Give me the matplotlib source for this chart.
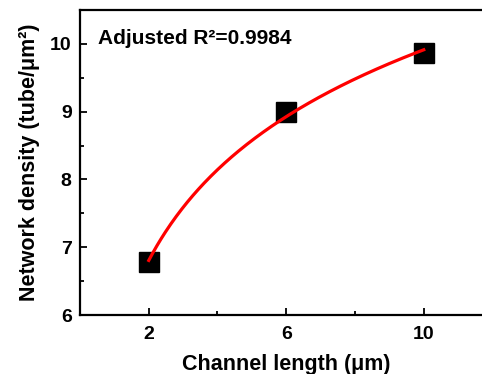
import numpy as np
import matplotlib
matplotlib.use("Agg")
import matplotlib.pyplot as plt
from matplotlib.ticker import MultipleLocator

# measured points
channel_length = [2, 6, 10]
density = [6.785, 8.99, 9.87]
fit_label = "Adjusted R\u00b2=0.9984"

plt.rcParams["font.family"] = ["Liberation Sans", "DejaVu Sans"]
plt.rcParams["font.weight"] = "bold"

fig = plt.figure(figsize=(4.82, 3.74), dpi=100)
ax = fig.add_axes([80 / 482, 59 / 374, 412.5 / 482, 305 / 374])

# logarithmic fit y = a + b*ln(x), drawn between the first and last point
b, a = np.polyfit(np.log(channel_length), density, 1)
xf = np.linspace(channel_length[0], channel_length[-1], 200)
ax.plot(xf, a + b * np.log(xf), color="#ff0000", lw=2.3, zorder=3)

ax.plot(channel_length, density, ls="none", marker="s", ms=14.5,
        color="black", zorder=2)

ax.set_xlim(0, 12)
ax.set_ylim(6, 10.5)
ax.xaxis.set_minor_locator(MultipleLocator(2))
ax.set_xticks([2, 6, 10])
ax.yaxis.set_major_locator(MultipleLocator(1))
ax.yaxis.set_minor_locator(MultipleLocator(0.5))
ax.tick_params(which="both", direction="in", width=1.3, labelsize=14)
ax.tick_params(which="major", length=5)
ax.tick_params(axis="x", which="major", pad=8)
ax.tick_params(axis="y", which="major", pad=6)
ax.tick_params(which="minor", length=3)
for sp in ax.spines.values():
    sp.set_linewidth(1.6)

ax.set_xlabel("Channel length (\u03bcm)", fontsize=15.5, fontweight="bold", labelpad=8)
ax.set_ylabel("Network density (tube/\u03bcm\u00b2)", fontsize=15.5, fontweight="bold", labelpad=7)

ax.text(0.044, 0.905, fit_label, transform=ax.transAxes, fontsize=15,
        fontweight="bold", ha="left", va="center")

fig.savefig("out.png", dpi=100)
